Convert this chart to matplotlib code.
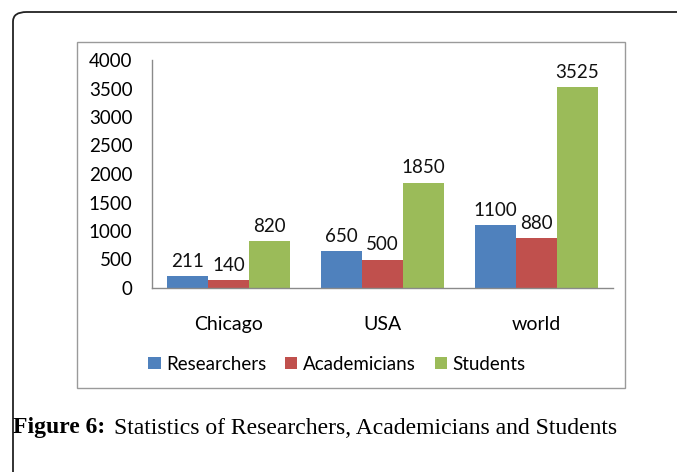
import numpy as np
import matplotlib.pyplot as plt
from matplotlib.patches import FancyBboxPatch, Rectangle

# chart values
places = ["Chicago", "USA", "world"]
researchers = [211, 650, 1100]
academicians = [140, 500, 880]
students = [820, 1850, 3525]
series_names = ["Researchers", "Academicians", "Students"]
colors = ["#4F81BD", "#C0504D", "#9BBB59"]

W, H = 677, 472
fig = plt.figure(figsize=(W / 100, H / 100), dpi=100)
plt.rcParams["font.family"] = ["Lato", "DejaVu Sans"]

# outer rounded frame (open on right/bottom)
frame = FancyBboxPatch((13 / W, -0.2), 1.2, 1 - 12 / H + 0.2,
                       boxstyle="round,pad=0,rounding_size=0.02",
                       transform=fig.transFigure, fill=False,
                       edgecolor="#222222", linewidth=1.3)
fig.patches.append(frame)

# chart box
box = Rectangle((77 / W, 1 - 388 / H), (625 - 77) / W, (388 - 42) / H,
                transform=fig.transFigure, fill=False,
                edgecolor="#9a9a9a", linewidth=1.0)
fig.patches.append(box)

ax = fig.add_axes([152 / W, 1 - 288 / H, 461 / W, 228 / H])
x = np.arange(len(places))
w = 0.267
for i, (vals, name, c) in enumerate(zip([researchers, academicians, students], series_names, colors)):
    bars = ax.bar(x + (i - 1) * w, vals, w, color=c, label=name)
    for b, v in zip(bars, vals):
        ax.text(b.get_x() + b.get_width() / 2, v + 110, str(v),
                ha="center", va="bottom", fontsize=13.5, color="#111111")

ax.set_xlim(-0.5, 2.5)
ax.set_ylim(0, 4000)
ax.set_yticks(range(0, 4001, 500))
ax.set_xticks(x)
ax.set_xticklabels(places)
ax.tick_params(axis="y", length=0, pad=14, labelsize=13.5)
ax.tick_params(axis="x", length=0, pad=20, labelsize=14)
for s in ["top", "right"]:
    ax.spines[s].set_visible(False)
for s in ["left", "bottom"]:
    ax.spines[s].set_color("#8a8a8a")
    ax.spines[s].set_linewidth(1.0)

fig.legend(loc="center", bbox_to_anchor=(337 / W, 1 - 364 / H), ncol=3,
           frameon=False, fontsize=13.5, handlelength=0.65, handleheight=0.65,
           handletextpad=0.3, columnspacing=1.0)

# caption
fig.text(13 / W, 1 - 428 / H, "Figure 6:", fontsize=17, fontweight="bold",
         family="Liberation Serif", va="center", ha="left")
fig.text(114 / W, 1 - 428 / H, "Statistics of Researchers, Academicians and Students",
         fontsize=17, family="Liberation Serif", va="center", ha="left")

fig.savefig("out.png", dpi=100)
